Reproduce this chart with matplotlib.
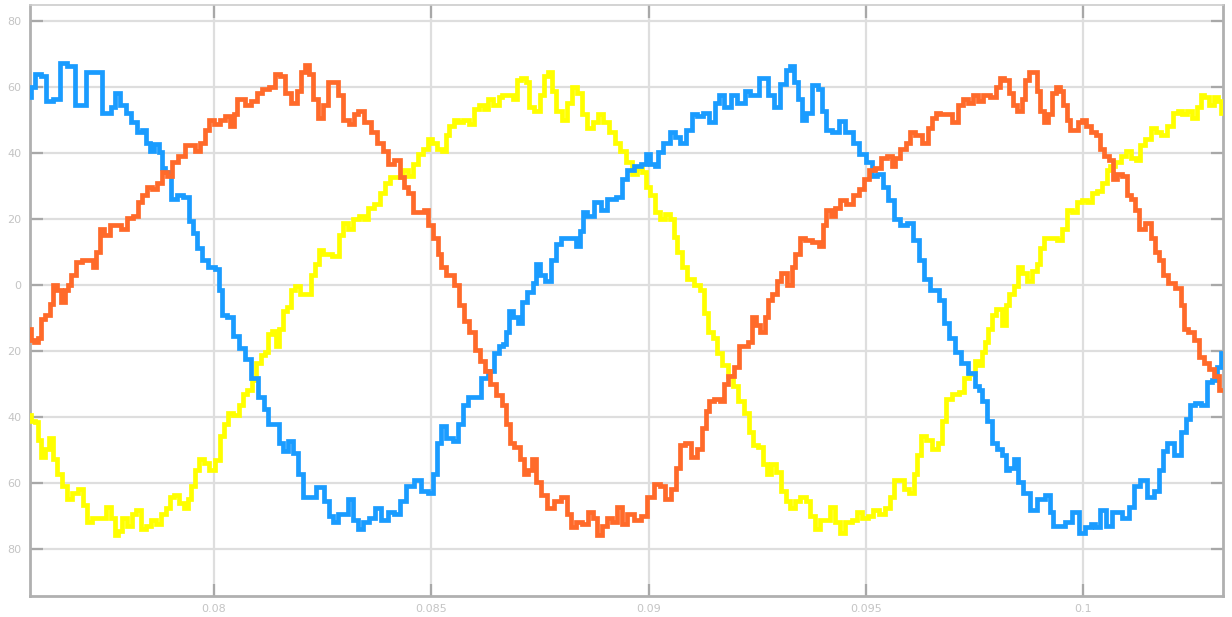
import numpy as np
import matplotlib
matplotlib.use("Agg")
import matplotlib.pyplot as plt
from matplotlib.ticker import FuncFormatter

# phase currents, time in ms, value in A
blue_t = [75.76, 75.80, 75.95, 76.07, 76.22, 76.37, 76.56, 76.68, 76.91, 76.99, 77.14, 77.29, 77.56, 77.68,
          77.75, 77.91, 78.02, 78.18, 78.29, 78.41, 78.48, 78.56, 78.67, 78.79, 78.83, 78.94, 79.10, 79.21,
          79.36, 79.48, 79.56, 79.67, 79.79, 79.94, 80.09, 80.13, 80.25, 80.36, 80.51, 80.63, 80.78, 80.94,
          81.09,
          81.20, 81.31, 81.47, 81.54, 81.66, 81.77, 81.89, 81.97, 82.12, 82.23, 82.46, 82.62, 82.69, 82.81,
          82.92, 83.04, 83.15, 83.23, 83.38, 83.50, 83.65, 83.77, 83.92, 84.07, 84.23, 84.34, 84.50, 84.69,
          84.84, 84.99, 85.07, 85.19, 85.26, 85.42, 85.57, 85.65, 85.80, 85.91, 86.07, 86.22, 86.38, 86.49,
          86.64,
          86.67, 86.75, 86.83, 86.94, 87.06, 87.13, 87.29, 87.40, 87.44, 87.56, 87.67, 87.82, 87.90, 88.06,
          88.29, 88.36, 88.48, 88.52, 88.67, 88.82, 88.98, 89.13, 89.36, 89.44, 89.59, 89.74, 89.90, 89.97,
          90.09, 90.20, 90.24, 90.43, 90.55, 90.66, 90.78, 90.93, 91.05, 91.20, 91.31, 91.47, 91.58, 91.66,
          91.81, 91.97, 92.12,
          92.15, 92.27, 92.38, 92.50, 92.57, 92.69, 92.80, 92.96, 93.11, 93.22, 93.30, 93.38, 93.49, 93.57,
          93.68, 93.84, 93.95, 94.03, 94.14, 94.30, 94.45, 94.60, 94.80, 94.91, 95.10, 95.18, 95.33, 95.45,
          95.56, 95.72, 95.87, 96.02, 96.14, 96.29, 96.37, 96.60, 96.75, 96.83, 96.98, 97.14, 97.25, 97.44,
          97.60,
          97.63, 97.74, 97.86, 97.93, 98.09, 98.20, 98.24, 98.36, 98.47, 98.55, 98.70, 98.85, 99.05, 99.20,
          99.28, 99.35, 99.51, 99.66, 99.85, 99.97, 100.12, 100.23, 100.31, 100.47, 100.58, 100.77, 101.00,
          101.12, 101.23, 101.38, 101.58, 101.69, 101.81, 101.88, 102.00, 102.19, 102.31, 102.42, 102.50,
          102.65, 102.77, 102.92, 103.03, 103.13, 103.20]
blue_v = [57.1, 60.0, 64.0, 63.5, 55.9, 56.5, 67.5, 66.4, 54.8, 54.8, 64.6, 64.6, 52.4, 54.2,
          58.2, 54.8, 52.4, 49.5, 46.6, 47.2, 43.2, 40.8, 42.8, 40.3, 35.6, 34.5, 26.3, 27.5,
          26.9, 19.4, 15.9, 11.3, 7.8, 5.5, 4.9, -1.5, -9.0, -9.6, -15.4, -18.9, -22.4, -28.2,
          -34.0,
          -37.5, -42.1, -42.1, -47.9, -50.2, -47.3, -50.7, -57.2, -64.2, -64.2, -61.3, -65.4, -70.0, -71.7,
          -69.4, -69.4, -64.7, -71.1, -74.0, -71.7, -70.5, -67.6, -71.1, -68.8, -69.4, -65.3, -60.7, -58.9,
          -62.4, -63.0, -57.2, -47.9, -42.7, -46.2, -47.3, -42.1, -36.3, -34.0, -34.0, -28.2, -25.9, -20.6,
          -18.3,
          -17.7, -14.3, -7.9, -9.6, -11.4, -5.0, -2.1, 0.8, 6.6, 3.1, 1.4, 7.8, 12.4, 14.2,
          14.2, 11.8, 16.5, 22.3, 21.1, 25.2, 22.9, 26.3, 26.9, 32.1, 35.0, 36.2, 36.8, 39.7,
          36.8, 36.2, 40.3, 43.2, 46.6, 44.9, 43.2, 47.2, 51.9, 51.3, 52.4, 49.5, 55.3, 57.7,
          54.2, 57.7, 55.3,
          55.3, 58.8, 57.7, 57.7, 62.9, 62.9, 57.7, 54.2, 61.1, 65.2, 66.4, 61.7, 56.5, 50.1,
          52.4, 60.6, 59.4, 53.0, 47.2, 46.6, 49.8, 46.6, 43.2, 39.7, 37.4, 33.3, 33.9, 29.8,
          25.8, 20.0, 18.2, 18.8, 13.6, 7.8, 2.0, -1.5, -4.4, -11.4, -16.0, -20.1, -23.6, -26.5,
          -30.5,
          -31.7, -35.2, -41.0, -47.9, -49.7, -51.4, -56.0, -55.5, -52.6, -59.5, -63.0, -68.2, -64.7, -63.6,
          -68.8, -72.9, -72.9, -71.7, -68.8, -75.2, -73.4, -72.3, -73.4, -68.2, -72.9, -68.8, -70.5,
          -67.1, -60.7, -58.9, -64.2, -62.4, -56.0, -50.2, -47.9, -51.4, -44.4, -40.4, -36.3,
          -35.7, -36.3, -29.4, -28.8, -24.7, -20.6]

orange_t = [75.76, 75.80, 75.91, 75.99, 76.03, 76.18, 76.26, 76.34, 76.45, 76.53, 76.60, 76.68, 76.76, 76.87,
            77.06, 77.18, 77.26, 77.33, 77.41, 77.52, 77.68, 77.79, 77.95, 78.06, 78.21, 78.29, 78.41, 78.52,
            78.64, 78.75, 78.87, 78.98, 79.10, 79.25, 79.40, 79.52, 79.63, 79.75, 79.83, 79.94, 80.06, 80.21,
            80.32, 80.40, 80.51, 80.55, 80.67, 80.78, 80.94, 81.05, 81.17,
            81.20, 81.35, 81.47, 81.58, 81.70, 81.85, 81.97, 82.04, 82.16, 82.23, 82.35, 82.46, 82.58, 82.69,
            82.81, 82.92, 83.04, 83.19, 83.27, 83.38, 83.54, 83.69, 83.81, 83.96, 84.07, 84.23, 84.34, 84.42,
            84.53, 84.61, 84.77, 84.88, 84.99, 85.11, 85.19, 85.26, 85.42, 85.61, 85.69, 85.80, 85.95, 86.07,
            86.18, 86.30, 86.41, 86.57,
            86.67, 86.79, 86.83, 86.98, 87.10, 87.17, 87.29, 87.36, 87.44, 87.59, 87.75, 87.90, 88.06, 88.17,
            88.25, 88.40, 88.55, 88.67, 88.78, 88.86, 88.98, 89.09, 89.21, 89.32, 89.44, 89.59, 89.74, 89.90,
            90.05, 90.20, 90.32, 90.43, 90.59, 90.66, 90.78, 90.89, 91.05, 91.20, 91.28, 91.35, 91.43, 91.58,
            91.70, 91.77, 91.89, 92.04, 92.12,
            92.23, 92.34, 92.42, 92.53, 92.61, 92.73, 92.76, 92.92, 92.99, 93.11, 93.26, 93.34, 93.42, 93.53,
            93.68, 93.84, 93.99, 94.03, 94.14, 94.26, 94.34, 94.49, 94.60, 94.80, 94.91, 95.03, 95.14, 95.30,
            95.41, 95.56, 95.64, 95.72, 95.87, 95.99, 96.06, 96.22, 96.37, 96.48, 96.56, 96.68, 96.75, 96.91,
            97.06, 97.17, 97.29, 97.40, 97.52,
            97.63, 97.78, 97.93, 98.05, 98.13, 98.24, 98.36, 98.43, 98.55, 98.62, 98.70, 98.82, 98.89, 98.97,
            99.05, 99.16, 99.24, 99.31, 99.43, 99.51, 99.58, 99.66, 99.74, 99.85, 99.93, 100.00, 100.12,
            100.23, 100.35, 100.43, 100.54, 100.66, 100.73, 100.85, 100.96, 101.04, 101.16, 101.23, 101.35,
            101.50, 101.62, 101.69, 101.81, 101.88, 102.04, 102.19, 102.31, 102.34, 102.50, 102.61, 102.73,
            102.84, 102.96, 103.07, 103.20]
orange_v = [-13.1, -16.6, -17.2, -16.0, -10.2, -9.0, -5.6, 0.2, -1.5, -5.0, -1.5, 0.2, 3.1, 7.2,
            7.8, 7.8, 5.5, 10.1, 17.1, 15.3, 18.2, 18.2, 17.1, 20.5, 21.1, 25.2, 27.5, 29.8,
            29.2, 31.0, 34.5, 33.3, 37.4, 39.1, 42.6, 42.6, 40.8, 43.2, 47.2, 50.1, 49.0, 50.1,
            51.3, 48.4, 51.9, 56.5, 56.5, 54.8, 55.9, 58.2, 59.4,
            59.4, 60.0, 64.0, 63.5, 58.2, 55.3, 58.8, 64.6, 66.9, 64.0, 56.5, 50.7, 54.8, 61.7,
            61.7, 57.7, 50.1, 49.0, 51.9, 53.0, 49.5, 46.6, 43.2, 40.8, 36.8, 38.0, 32.7, 29.8,
            28.1, 22.3, 22.3, 22.9, 18.2, 14.2, 9.5, 5.5, 3.1, 0.2, -6.1, -10.8, -14.3, -19.5,
            -23.0, -25.9, -30.0, -33.4,
            -36.3, -42.1, -47.9, -49.1, -52.6, -57.2, -56.0, -52.6, -59.5, -63.6, -67.6, -65.4, -64.2, -69.4,
            -73.4, -71.7, -72.3, -68.8, -70.5, -75.8, -72.9, -70.5, -71.7, -67.1, -72.3, -69.4, -71.1, -70.0,
            -64.2, -60.1, -60.7, -64.7, -61.8, -55.5, -48.5, -47.9, -52.0, -49.7, -43.3, -38.1, -35.2, -34.6,
            -35.2, -30.0, -27.6, -24.7, -18.3,
            -18.3, -17.2, -9.6, -11.9, -14.3, -9.6, -4.4, -2.7, 1.4, 3.7, 0.2, 5.5, 9.5, 14.2,
            13.6, 13.0, 11.8, 18.2, 22.9, 21.1, 23.4, 25.8, 24.6, 27.5, 29.2, 32.1, 35.0, 35.6,
            38.5, 39.1, 36.2, 38.5, 41.4, 43.2, 46.6, 45.5, 43.2, 47.8, 50.7, 52.4, 51.9, 51.9,
            49.5, 54.8, 56.5, 55.3, 57.7,
            55.9, 57.7, 57.1, 60.0, 62.9, 62.3, 58.2, 54.8, 53.0, 56.5, 62.3, 64.6, 64.6, 58.8,
            53.0, 49.5, 51.9, 58.2, 60.0, 58.8, 54.8, 50.1, 47.2, 47.2, 49.5, 50.1, 48.4,
            46.6, 45.5, 41.4, 39.1, 38.0, 32.1, 33.9, 33.3, 27.5, 26.3, 22.9, 17.1,
            18.8, 14.2, 10.1, 7.8, 3.1, 0.8, -0.9, -6.1, -13.1, -14.3, -16.6, -21.8,
            -23.6, -25.3, -27.6, -31.7]

yellow_t = [75.76, 75.84, 75.91, 75.99, 76.07, 76.14, 76.26, 76.34, 76.45, 76.56, 76.68, 76.79, 76.95, 77.03,
            77.14, 77.26, 77.37, 77.45, 77.56, 77.68, 77.75, 77.83, 77.95, 78.06, 78.18, 78.25, 78.37, 78.48,
            78.60, 78.71, 78.87, 78.94, 79.02, 79.13, 79.25, 79.36, 79.44, 79.52, 79.59, 79.71, 79.83, 79.94,
            80.09, 80.17, 80.29, 80.36, 80.51, 80.63, 80.70, 80.82, 80.94, 81.01, 81.17,
            81.20, 81.27, 81.39, 81.47, 81.54, 81.62, 81.73, 81.81, 81.92, 82.04, 82.19, 82.27, 82.39, 82.46,
            82.58, 82.85, 82.92, 83.04, 83.15, 83.27, 83.42, 83.50, 83.61, 83.77, 83.88, 84.00, 84.11, 84.27,
            84.42, 84.53, 84.61, 84.76, 84.88, 84.96, 85.07, 85.19, 85.30, 85.38, 85.46, 85.57, 85.68, 85.80,
            85.95, 86.03, 86.15, 86.26, 86.34, 86.49, 86.61,
            86.67, 86.83, 86.94, 87.02, 87.13, 87.21, 87.29, 87.44, 87.56, 87.63, 87.75, 87.82, 87.94, 88.06,
            88.17, 88.29, 88.40, 88.52, 88.67, 88.78, 88.90, 89.01, 89.17, 89.28, 89.40, 89.55, 89.70, 89.78,
            89.90, 89.97, 90.09, 90.20, 90.32, 90.43, 90.55, 90.62, 90.70, 90.82, 90.97, 91.12, 91.24, 91.31,
            91.43, 91.54, 91.62, 91.77, 91.89, 92.00, 92.12,
            92.27, 92.34, 92.46, 92.57, 92.69, 92.76, 92.88, 92.99, 93.11, 93.22, 93.30, 93.42, 93.57, 93.68,
            93.76, 93.88, 93.99, 94.14, 94.22, 94.34, 94.45, 94.60, 94.76, 94.83, 94.99, 95.10, 95.22, 95.37,
            95.52, 95.60, 95.72, 95.83, 95.95, 96.06, 96.14, 96.22, 96.33, 96.45, 96.60, 96.72, 96.79, 96.91,
            97.06, 97.21, 97.33, 97.44, 97.60,
            97.63, 97.70, 97.78, 97.86, 97.93, 98.05, 98.20, 98.24, 98.36, 98.47, 98.55, 98.66, 98.78, 98.89,
            98.97, 99.05, 99.16, 99.35, 99.47, 99.58, 99.66, 99.81, 99.93, 100.04, 100.16, 100.27, 100.39,
            100.50, 100.58, 100.66, 100.81, 100.93, 101.04, 101.16, 101.27, 101.35, 101.50, 101.62, 101.73,
            101.85, 102.00, 102.12, 102.23, 102.34, 102.46, 102.57, 102.69, 102.73, 102.84, 102.96, 103.07,
            103.15, 103.20]
yellow_v = [-39.2, -41.0, -41.5, -46.8, -52.0, -49.7, -46.2, -52.6, -57.2, -60.7, -64.7, -63.0, -61.8, -66.5,
            -71.7, -70.5, -70.5, -70.5, -67.1, -70.5, -75.8, -74.6, -70.5, -72.9, -69.4, -68.2, -74.0, -72.9,
            -71.1, -72.3, -69.4, -67.6, -64.2, -63.6, -65.9, -67.6, -64.7, -60.7, -56.0, -52.6, -53.8, -56.0,
            -53.1, -45.6, -42.1, -38.6, -39.2, -36.3, -32.8, -31.7, -28.8, -23.6, -21.2,
            -20.1, -14.8, -13.7, -18.3, -13.1, -7.9, -6.7, -1.5, -0.3, -2.7, -2.7, 3.1, 6.6, 10.7,
            9.5, 8.9, 15.3, 18.8, 17.1, 20.0, 21.1, 20.0, 23.4, 24.6, 28.1, 31.0, 32.7, 32.7,
            35.0, 33.3, 36.8, 39.7, 41.4, 44.3, 43.2, 41.4, 40.8, 45.5, 48.4, 50.1, 49.5, 50.1,
            49.0, 53.6, 54.8, 53.6, 56.5, 54.8, 57.1,
            57.7, 57.7, 56.5, 62.3, 62.9, 61.7, 54.2, 53.0, 57.7, 63.5, 64.6, 58.8, 53.0, 50.1,
            55.3, 60.0, 58.2, 51.9, 47.8, 49.5, 51.9, 49.5, 46.6, 43.2, 40.8, 37.4, 33.9, 35.6,
            34.5, 29.8, 27.5, 22.3, 20.0, 21.7, 20.0, 14.7, 10.1, 5.5, 2.0, 0.2, -1.5, -8.5,
            -14.3, -16.0, -20.6, -24.1, -27.6, -30.5, -35.2,
            -38.6, -44.4, -48.5, -49.1, -54.3, -57.2, -54.3, -56.6, -62.4, -65.3, -67.6, -65.3, -64.2, -65.3,
            -70.0, -74.0, -71.1, -71.1, -67.1, -71.7, -75.2, -71.7, -71.1, -68.8, -70.5, -70.0, -68.2, -69.4,
            -67.6, -64.2, -58.9, -58.9, -61.8, -63.0, -57.2, -51.4, -45.6, -46.8, -49.7, -47.9, -41.0, -34.6,
            -32.8, -32.3, -28.2, -27.0, -23.0,
            -24.1, -20.1, -17.2, -13.1, -9.0, -7.3, -11.9, -6.1, -2.7, -0.3, 5.5, 3.7, 1.4, 4.3,
            6.6, 11.3, 14.2, 14.2, 13.6, 17.1, 22.9, 22.3, 25.2, 25.8, 25.2, 28.1, 28.7,
            31.0, 35.0, 36.2, 37.4, 39.1, 40.8, 38.5, 38.0, 42.6, 44.3, 47.8, 46.6,
            45.5, 48.4, 52.4, 53.0, 51.9, 53.0, 50.7, 54.2, 57.7, 57.1, 54.8, 57.1,
            55.9, 52.4]

x_ticks = [0.08, 0.085, 0.09, 0.095, 0.1]
y_ticks = [-80, -60, -40, -20, 0, 20, 40, 60, 80]

fig = plt.figure(figsize=(12.32, 6.17), dpi=100)
ax = fig.add_axes([30 / 1232, 21 / 617, 1193 / 1232, 591 / 617])

# stepped traces, as sampled by the solver
lw = 3.4
for t, v, c, z in [(yellow_t, yellow_v, "#ffff00", 3),
                   (blue_t, blue_v, "#1a9cff", 4),
                   (orange_t, orange_v, "#ff6a2a", 5)]:
    ax.plot(np.array(t) / 1000, v, color=c, lw=lw, zorder=z,
            drawstyle="steps-mid", solid_joinstyle="miter")

ax.set_xlim(0.075767, 0.10322)
ax.set_ylim(-94.2, 85.0)
ax.set_xticks(x_ticks)
ax.set_yticks(y_ticks)
ax.xaxis.set_major_formatter(FuncFormatter(lambda v, p: f"{v:g}"))
ax.yaxis.set_major_formatter(FuncFormatter(lambda v, p: f"{abs(v):g}"))

ax.grid(True, color="#dedede", lw=1.6)
ax.set_axisbelow(True)
ax.tick_params(which="major", direction="in", length=9, width=1.6, color="#a8a8a8",
               top=True, right=True, labelsize=8, labelcolor="#c4c4c4", pad=6)
for side in ["left", "bottom", "right"]:
    ax.spines[side].set_color("#b0b0b0")
    ax.spines[side].set_linewidth(2.0)
ax.spines["top"].set_color("#cccccc")
ax.spines["top"].set_linewidth(1.2)

fig.savefig("out.png", dpi=100)
